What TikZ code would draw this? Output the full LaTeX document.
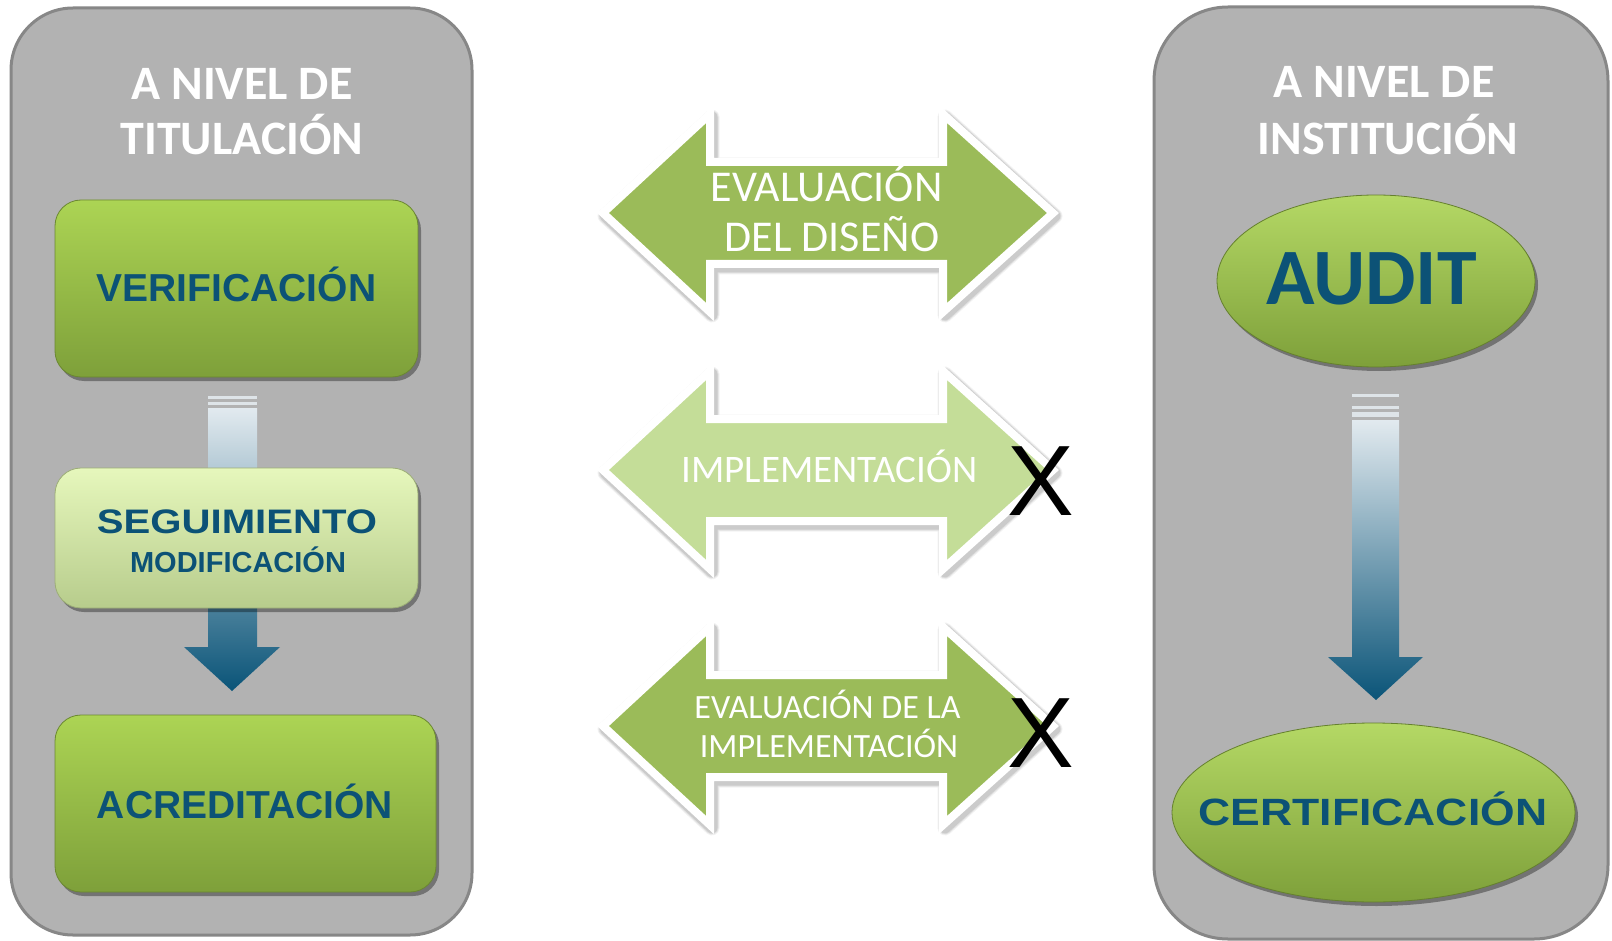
\documentclass[tikz,border=0pt]{standalone}
\usepackage{fontspec}
\setmainfont{Carlito}
\newfontfamily\arialf{Liberation Sans}
\usepackage{graphicx}
\usetikzlibrary{shapes.geometric,shadows}
\definecolor{panelgray}{RGB}{178,178,178}
\definecolor{panelline}{RGB}{135,135,135}
\definecolor{deepblue}{RGB}{12,82,118}
\definecolor{greentop}{RGB}{172,212,84}
\definecolor{greenbot}{RGB}{126,160,58}
\definecolor{lighttop}{RGB}{230,247,188}
\definecolor{lightbot}{RGB}{183,204,140}
\definecolor{olive}{RGB}{155,187,89}
\definecolor{oliveL}{RGB}{196,221,152}
\definecolor{arrowtop}{RGB}{226,234,239}
\definecolor{arrowmid}{RGB}{145,177,198}
\definecolor{arrowbot}{RGB}{10,84,120}
\definecolor{stripe}{RGB}{222,228,232}
\newcommand\dblpath[1]{(603,#1) -- (710,#1-99) -- (710,#1-51) -- (943,#1-51) -- (943,#1-99) -- (1053,#1) -- (943,#1+99) -- (943,#1+51) -- (710,#1+51) -- (710,#1+99) -- cycle}
\begin{document}
\begin{tikzpicture}[x=0.5pt,y=-0.5pt,
  panel/.style={fill=panelgray,draw=panelline,line width=1.5pt},
  boxshadow/.style={drop shadow={shadow xshift=1.5pt,shadow yshift=-2pt,opacity=0.35,fill=black}},
  greenbox/.style={rectangle,rounded corners=13pt,top color=greentop,bottom color=greenbot,draw=greenbot!85!black,line width=0.4pt,boxshadow,inner sep=0pt},
  lightbox/.style={rectangle,rounded corners=13pt,top color=lighttop,bottom color=lightbot,draw=lightbot!85!black,line width=0.4pt,boxshadow,inner sep=0pt},
  greenoval/.style={ellipse,top color=greentop!90!white,bottom color=greenbot,draw=greenbot!80!black,line width=0.4pt,boxshadow,inner sep=0pt},
  titletext/.style={anchor=base,inner sep=0pt,text=white,font=\fontsize{24pt}{28pt}\selectfont\bfseries},
  boxtext/.style={anchor=base,inner sep=0pt,text=deepblue,font=\arialf\bfseries\fontsize{19.5pt}{23pt}\selectfont},
  midtext/.style={anchor=base,inner sep=0pt,text=white},
  softshade/.style={draw=black,line join=round,xshift=1pt,yshift=-1.5pt},
  dblarrow/.style={draw=white,line width=4pt,line join=miter},
  blockarrow/.style={top color=arrowtop,middle color=arrowmid,bottom color=arrowbot},
  xmark/.style={anchor=base,inner sep=0pt,text=black,font=\arialf\fontsize{50pt}{56pt}\selectfont}
]
\useasboundingbox (0,0) rectangle (1612,941);
\fill[white] (0,0) rectangle (1612,941);

% ---------- left panel ----------
\draw[panel,rounded corners=31pt] (11,8) rectangle (472,935);
\node[titletext] (tl1) at (242,100) {A NIVEL DE};
\node[titletext] (tl2) at (242,155) {TITULACIÓN};

% vertical block arrow (behind the middle box)
\fill[stripe] (208,396) rectangle (257,399);
\fill[stripe] (208,402) rectangle (257,405);
\path[blockarrow] (208,408) -- (257,408) -- (257,647) -- (280,647) -- (232,691) -- (184,647) -- (208,647) -- cycle;

\node[greenbox,minimum width=181.5pt,minimum height=88.5pt] (verif) at (236.5,288.5) {};
\node[boxtext] (verift) at (236.5,302) {VERIFICACIÓN};

\node[lightbox,minimum width=181.5pt,minimum height=70pt] (segui) at (236.5,538) {};
\node[boxtext,font=\arialf\bfseries\fontsize{17pt}{20pt}\selectfont] (seguit) at (237,533) {\scalebox{1.18}[1]{SEGUIMIENTO}};
\node[boxtext,font=\arialf\bfseries\fontsize{14.5pt}{17pt}\selectfont] (modift) at (238,572) {MODIFICACIÓN};

\node[greenbox,minimum width=190.5pt,minimum height=88.5pt] (acred) at (245.5,803.5) {};
\node[boxtext] (acredt) at (245,818) {ACREDITACIÓN};

% ---------- middle arrows ----------
\foreach \cy/\col in {213/olive,470/oliveL,726/olive}{
  \draw[softshade,line width=7.5pt,opacity=0.05] \dblpath{\cy};
  \draw[softshade,line width=6.5pt,opacity=0.07] \dblpath{\cy};
  \draw[softshade,line width=5.5pt,opacity=0.09] \dblpath{\cy};
  \draw[dblarrow,fill=\col] \dblpath{\cy};
}
\node[midtext,font=\fontsize{22pt}{26pt}\selectfont] (ev1) at (826.5,202) {EVALUACIÓN};
\node[midtext,font=\fontsize{22pt}{26pt}\selectfont] (ev2) at (832,252) {DEL DISEÑO};

\node[midtext,font=\fontsize{19.5pt}{23pt}\selectfont] (imp) at (829.5,482) {IMPLEMENTACIÓN};
\node[xmark] (x1) at (1041,515) {X};

\node[midtext,font=\fontsize{17pt}{20pt}\selectfont] (evi1) at (827.5,718) {EVALUACIÓN DE LA};
\node[midtext,font=\fontsize{17pt}{20pt}\selectfont] (evi2) at (829,757) {IMPLEMENTACIÓN};
\node[xmark] (x2) at (1041,767) {X};

% ---------- right panel ----------
\draw[panel,rounded corners=37pt] (1154,7) rectangle (1608,939);
\node[titletext] (tr1) at (1384,98) {A NIVEL DE};
\node[titletext] (tr2) at (1388,155) {INSTITUCIÓN};

\node[greenoval,minimum width=159pt,minimum height=86pt] (audit) at (1376,281) {};
\node[boxtext,font=\bfseries\fontsize{40pt}{46pt}\selectfont] (auditt) at (1371.5,305) {AUDIT};

\fill[stripe] (1352,394) rectangle (1399,397);
\fill[stripe] (1352,406) rectangle (1399,409);
\fill[stripe] (1352,412) rectangle (1399,417);
\path[blockarrow] (1352,420) -- (1399,420) -- (1399,657) -- (1423,657) -- (1376,700) -- (1328,657) -- (1352,657) -- cycle;

\node[greenoval,minimum width=201.5pt,minimum height=89.5pt] (cert) at (1373.5,812.5) {};
\node[boxtext,font=\arialf\bfseries\fontsize{19pt}{22pt}\selectfont] (certt) at (1373,825) {\scalebox{1.17}[1]{CERTIFICACIÓN}};
\end{tikzpicture}
\end{document}
